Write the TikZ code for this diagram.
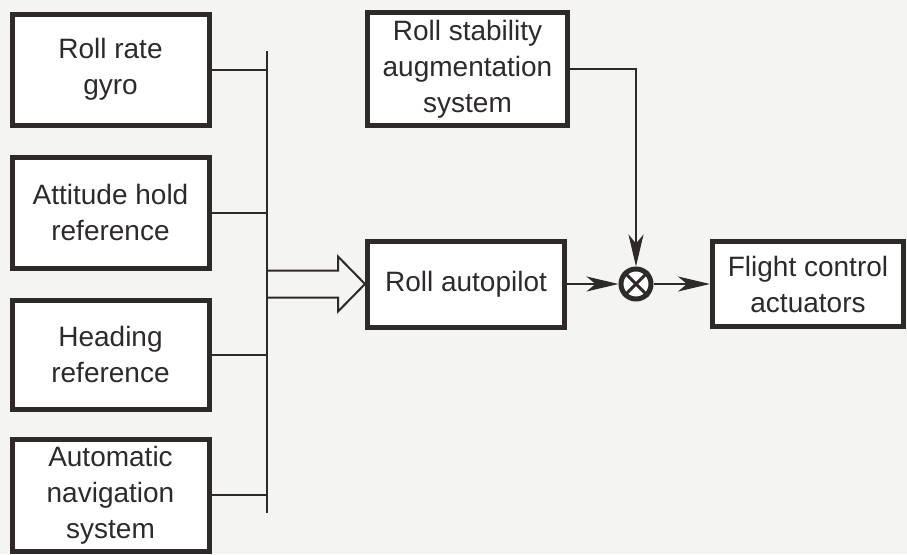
\documentclass[tikz,border=0pt]{standalone}
\usepackage{fontspec}
\setmainfont{Liberation Sans}
\usepackage{xcolor}
\usepackage{tikz}
\usetikzlibrary{arrows.meta,positioning,calc}
\definecolor{ink}{HTML}{2E2A2A}
\definecolor{paper}{HTML}{F4F4F2}
\tikzset{
  % ---- blocks ----------------------------------------------------------
  blk/.style={
    draw=ink, line width=5pt, fill=white, inner sep=0pt, align=center,
    text=ink, font=\fontsize{28}{36}\selectfont},
  % ---- connections -----------------------------------------------------
  wire/.style={draw=ink, line width=2pt},
  sig/.style={wire, -{Stealth[length=32pt,width=15pt,inset=9pt]}},
  sumjct/.style={circle, draw=ink, line width=5pt, fill=white,
    minimum size=30pt, inner sep=0pt},
}

\begin{document}
\begin{tikzpicture}[x=1pt, y=-1pt]
\clip (0,0) rectangle (907,554);
\fill[paper] (0,0) rectangle (907,554);

% ---------------- sensor blocks ---------------------------------------
\node[blk, minimum width=197pt, minimum height=111pt] (gyro) at (110.5,69.5)
  {Roll rate\\gyro};
\node[blk, minimum width=197pt, minimum height=111pt] (att) at (110.5,212.5)
  {Attitude hold\\reference};
\node[blk, minimum width=197pt, minimum height=109pt] (head) at (110.5,354.5)
  {Heading\\reference};
\node[blk, minimum width=197pt, minimum height=112pt] (nav) at (110.5,495)
  {Automatic\\navigation\\system};

% ---------------- bus -------------------------------------------------
\coordinate (busTop) at (267,51);
\coordinate (busBot) at (267,513);
\draw[wire] (busTop) -- (busBot);
\foreach \src in {gyro, att, head, nav}{
  \draw[wire] (\src.east) -- (\src.east -| busTop);
}

% ---------------- control path ----------------------------------------
\node[blk, minimum width=200pt, minimum height=113pt] (rsas) at (467.5,69)
  {Roll stability\\augmentation\\system};
\node[blk, minimum width=197pt, minimum height=86pt] (auto) at (466,284)
  {Roll autopilot};
\node[sumjct] (sum) at (636,284) {};
\draw[ink, line width=3pt] (sum.north east) -- (sum.south west)
  (sum.north west) -- (sum.south east);
\node[blk, minimum width=191pt, minimum height=85pt] (fca) at (808,284)
  {Flight control\\actuators};

% hollow arrow from the bus
\coordinate (shU) at ($(auto.west)+(-27,-13.5)$);
\coordinate (shD) at ($(auto.west)+(-27,13.5)$);
\draw[wire, line join=miter]
  (shU -| busTop) -- (shU) -- ++(0,-14) -- (auto.west)
  -- ($(shD)+(0,14)$) -- (shD) -- (shD -| busTop);

\draw[sig] (rsas.east) -| (sum.north);
\draw[sig] (auto.east) -- (sum.west);
\draw[sig] (sum.east) -- (fca.west);

\end{tikzpicture}
\end{document}
